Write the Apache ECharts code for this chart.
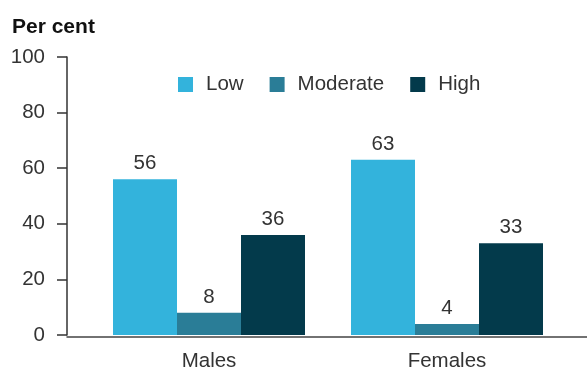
<!DOCTYPE html>
<html>
<head>
<meta charset="utf-8">
<script src="https://cdn.jsdelivr.net/npm/echarts@6/dist/echarts.min.js"></script>
<style>html,body{margin:0;padding:0;background:#fff}#c{width:587px;height:372px}</style>
</head>
<body>
<div id="c"></div>
<script>
const categories = ['Males', 'Females'];
const seriesNames = ['Low', 'Moderate', 'High'];
const lowValues = [56, 63];
const moderateValues = [8, 4];
const highValues = [36, 33];
const yTicks = [0, 20, 40, 60, 80, 100];
const colors = ['#33b3dc', '#2a7d97', '#033a4b'];

const font = 'Liberation Sans, Arial, sans-serif';
const fs = 20.5;
const chart = echarts.init(document.getElementById('c'));
const values = [lowValues, moderateValues, highValues];
chart.setOption({
  animation: false,
  color: colors,
  textStyle: { fontFamily: font },
  title: {
    text: 'Per cent', left: 7, top: 12,
    textStyle: { fontSize: 21, fontWeight: 'bold', color: '#111', fontFamily: font }
  },
  legend: {
    data: seriesNames, top: 69, left: 173,
    itemWidth: 15, itemHeight: 15, itemGap: 26,
    icon: 'rect',
    textStyle: { fontSize: fs, color: '#333', padding: [0, 0, 0, 8], fontFamily: font }
  },
  grid: [
    { left: 90, right: 21, top: 57, bottom: 35 },
    { left: 67, right: 0, top: 57, bottom: 35 }
  ],
  xAxis: [
    {
      type: 'category', data: categories, gridIndex: 0,
      axisLine: { show: false }, axisTick: { show: false },
      axisLabel: { fontSize: fs, color: '#333', margin: 16, fontFamily: font }
    },
    {
      type: 'value', gridIndex: 1, min: 0, max: 1,
      axisLine: { show: true, lineStyle: { color: '#444', width: 1.5 } },
      axisTick: { show: false }, axisLabel: { show: false }, splitLine: { show: false }
    }
  ],
  yAxis: [
    {
      type: 'value', gridIndex: 0, min: yTicks[0], max: yTicks[yTicks.length - 1], interval: 20,
      offset: 23,
      axisLine: { show: true, lineStyle: { color: '#333', width: 1.5 } },
      axisTick: { show: true, length: 10, lineStyle: { color: '#333', width: 1.5 } },
      axisLabel: { fontSize: fs, color: '#333', margin: 22, fontFamily: font },
      splitLine: { show: false }
    },
    { type: 'value', gridIndex: 1, min: 0, max: 100, show: false }
  ],
  series: seriesNames.map((n, i) => ({
    name: n, type: 'bar', data: values[i], xAxisIndex: 0, yAxisIndex: 0,
    barWidth: 64, barGap: '0%',
    label: { show: true, position: 'top', distance: 5, fontSize: fs, color: '#333', fontFamily: font }
  }))
});
</script>
</body>
</html>
